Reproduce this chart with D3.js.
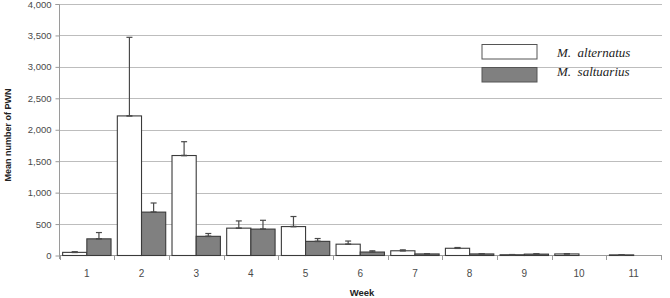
<!DOCTYPE html>
<html><head><meta charset="utf-8">
<script src="https://cdn.jsdelivr.net/npm/d3@7"></script>
<style>body{margin:0;background:#fff}svg{display:block}</style>
</head><body>
<script>
const weeks = ["1","2","3","4","5","6","7","8","9","10","11"];
const seriesNames = ["M.  alternatus","M.  saltuarius"];
const alternatus = [50,2220,1590,435,460,180,75,115,12,25,10];
const alternatusErr = [10,1250,220,115,160,50,15,12,3,5,2];
const saltuarius = [265,690,305,420,225,55,25,25,22,0,0];
const saltuariusErr = [100,145,45,140,45,20,5,4,5,0,0];
const yTicks = [0,500,1000,1500,2000,2500,3000,3500,4000];
const yTitle = "Mean number of PWN";
const xTitle = "Week";

const W=670,H=298;
const svg=d3.select("body").append("svg").attr("width",W).attr("height",H);
const x0=d3.scaleBand().domain(weeks).range([59.5,661]).paddingInner(0).paddingOuter(0);
const x1=d3.scaleBand().domain([0,1]).range([0,x0.bandwidth()]).paddingInner(0).paddingOuter(0.13);
const y=d3.scaleLinear().domain([0,4000]).range([255.5,4]);

// gridlines
svg.append("g").selectAll("line").data(yTicks.filter(d=>d>0)).join("line")
  .attr("x1",59.5).attr("x2",662).attr("y1",d=>Math.round(y(d))+0.5).attr("y2",d=>Math.round(y(d))+0.5)
  .attr("stroke","#bdbdbd").attr("stroke-width",1);

// y axis
const ya=svg.append("g").attr("transform","translate(59.5,0)")
  .call(d3.axisLeft(y).tickValues(yTicks).tickFormat(d3.format(",")).tickSize(4).tickPadding(4));
ya.select(".domain").attr("stroke","#9a9a9a").attr("d","M-4,4.5H0V259");
ya.selectAll(".tick line").attr("stroke","#9a9a9a");
ya.selectAll("text").attr("fill","#4a4a4a").style("font-family","Liberation Sans, Arial, sans-serif").style("font-size","9.5px");

// x axis baseline and ticks
svg.append("line").attr("x1",59.5).attr("x2",662).attr("y1",255.5).attr("y2",255.5).attr("stroke","#9a9a9a");
svg.append("g").selectAll("line").data(weeks.concat(["end"])).join("line")
  .attr("x1",(d,i)=>Math.round(i<weeks.length?x0(d):x0.range()[1])+0.5)
  .attr("x2",(d,i)=>Math.round(i<weeks.length?x0(d):x0.range()[1])+0.5)
  .attr("y1",255.5).attr("y2",260).attr("stroke","#9a9a9a");
svg.append("g").selectAll("text").data(weeks).join("text")
  .attr("x",d=>x0(d)+x0.bandwidth()/2).attr("y",277).attr("text-anchor","middle")
  .attr("fill","#4a4a4a").style("font-family","Liberation Sans, Arial, sans-serif").style("font-size","10px").text(d=>d);

// bars
const data=[alternatus,saltuarius], errs=[alternatusErr,saltuariusErr], fills=["#ffffff","#808080"];
data.forEach((vals,s)=>{
  const g=svg.append("g");
  g.selectAll("rect").data(vals).join("rect")
    .attr("x",(d,i)=>x0(weeks[i])+x1(s)).attr("width",x1.bandwidth())
    .attr("y",d=>y(d)).attr("height",d=>y(0)-y(d))
    .attr("fill",fills[s]).attr("stroke",d=>d>0?"#3a3a3a":"none").attr("stroke-width",1.1);
  const eg=svg.append("g").attr("stroke","#4a4a4a").attr("stroke-width",1.2);
  vals.forEach((v,i)=>{
    const e=errs[s][i]; if(v<=0) return;
    const cx=x0(weeks[i])+x1(s)+x1.bandwidth()/2;
    eg.append("line").attr("x1",cx).attr("x2",cx).attr("y1",y(v)).attr("y2",y(v+e));
    eg.append("line").attr("x1",cx-3).attr("x2",cx+3).attr("y1",y(v+e)).attr("y2",y(v+e));
    eg.append("line").attr("x1",cx-3).attr("x2",cx+3).attr("y1",y(v)).attr("y2",y(v)).attr("stroke-width",1.6);
  });
});

// legend
const leg=svg.append("g");
[0,1].forEach(s=>{
  leg.append("rect").attr("x",482).attr("y",44.5+s*23).attr("width",55).attr("height",14.5)
    .attr("fill",fills[s]).attr("stroke","#555").attr("stroke-width",1);
  leg.append("text").attr("x",557).attr("y",57+s*19).style("white-space","pre")
    .style("font-family","Liberation Serif, Times New Roman, serif").style("font-style","italic").style("font-size","13px")
    .attr("fill","#222").text(seriesNames[s]);
});

// titles
svg.append("text").attr("transform","translate(11,135) rotate(-90)").attr("text-anchor","middle")
  .style("font-family","Liberation Sans, Arial, sans-serif").style("font-weight","bold").style("font-size","9px")
  .attr("fill","#222").text(yTitle);
svg.append("text").attr("x",362).attr("y",296).attr("text-anchor","middle")
  .style("font-family","Liberation Sans, Arial, sans-serif").style("font-weight","bold").style("font-size","9.5px")
  .attr("fill","#222").text(xTitle);
</script>
</body></html>
